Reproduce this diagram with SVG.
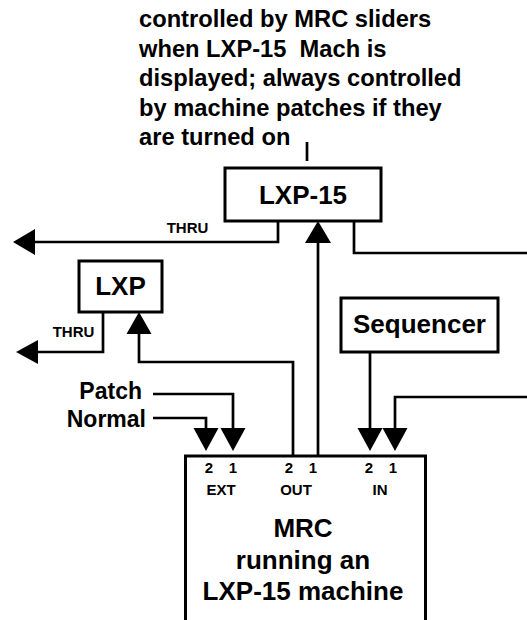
<svg xmlns="http://www.w3.org/2000/svg" width="527" height="620" viewBox="0 0 527 620">
<style>
text{font-family:"Liberation Sans",Arial,sans-serif;font-weight:bold;fill:#000}
.note{font-size:23.7px}
.big{font-size:26px;text-anchor:middle}
.lbl{font-size:23px;text-anchor:end}
.sm{font-size:15px;text-anchor:middle}
.box{fill:#fff;stroke:#000;stroke-width:3}
.wire{fill:none;stroke:#000;stroke-width:2.7}
.ah{fill:#000}
</style>
<rect width="527" height="620" fill="#fff"/>
<g id="note">
<text class="note" x="139" y="27">controlled by MRC sliders</text>
<text class="note" x="139" y="56.5" xml:space="preserve">when LXP-15  Mach is</text>
<text class="note" x="139" y="86">displayed; always controlled</text>
<text class="note" x="139" y="115.5">by machine patches if they</text>
<text class="note" x="139" y="145">are turned on</text>
</g>
<g id="connectors">
<path class="wire" d="M307,142 V161"/>
<path class="wire" d="M278,221 V242 H31"/>
<polygon class="ah" points="13,242 35,229 35,255"/>
<text class="sm" x="187.5" y="233">THRU</text>
<path class="wire" d="M318,456 V241"/>
<polygon class="ah" points="318,221 305,243 331,243"/>
<path class="wire" d="M354,221 V253 H527"/>
<path class="wire" d="M103,312 V352 H36"/>
<polygon class="ah" points="16,352 38,340 38,364"/>
<text class="sm" x="73.5" y="337">THRU</text>
<path class="wire" d="M293,456 V362 H139 V332"/>
<polygon class="ah" points="139,312 126.5,334 151.5,334"/>
<path class="wire" d="M370,352 V430"/>
<polygon class="ah" points="370,451 357.5,428 382.5,428"/>
<path class="wire" d="M527,397 H395 V430"/>
<polygon class="ah" points="395,451 382.5,428 407.5,428"/>
<path class="wire" d="M153,394 H233 V430"/>
<polygon class="ah" points="233,451 220.5,428 245.5,428"/>
<path class="wire" d="M153,418 H206 V430"/>
<polygon class="ah" points="206,451 193.5,428 218.5,428"/>
<text class="lbl" x="142" y="399">Patch</text>
<text class="lbl" x="146" y="427">Normal</text>
</g>
<g id="lxp15">
<rect class="box" x="225" y="168" width="156" height="53"/>
<text class="big" x="303" y="204">LXP-15</text>
</g>
<g id="lxp">
<rect class="box" x="79" y="261" width="83" height="51"/>
<text class="big" x="120.5" y="295">LXP</text>
</g>
<g id="sequencer">
<rect class="box" x="341" y="298" width="157" height="54"/>
<text class="big" x="419.5" y="333">Sequencer</text>
</g>
<g id="mrc">
<rect class="box" x="185.5" y="456" width="240" height="180"/>
<text class="sm" x="209" y="473">2</text>
<text class="sm" x="233" y="473">1</text>
<text class="sm" x="289" y="473">2</text>
<text class="sm" x="313" y="473">1</text>
<text class="sm" x="369" y="473">2</text>
<text class="sm" x="393" y="473">1</text>
<text class="sm" x="221" y="495">EXT</text>
<text class="sm" x="296" y="495">OUT</text>
<text class="sm" x="380" y="495">IN</text>
<text class="big" x="303" y="537">MRC</text>
<text class="big" x="303" y="568.5">running an</text>
<text class="big" x="303" y="600">LXP-15 machine</text>
</g>
</svg>
